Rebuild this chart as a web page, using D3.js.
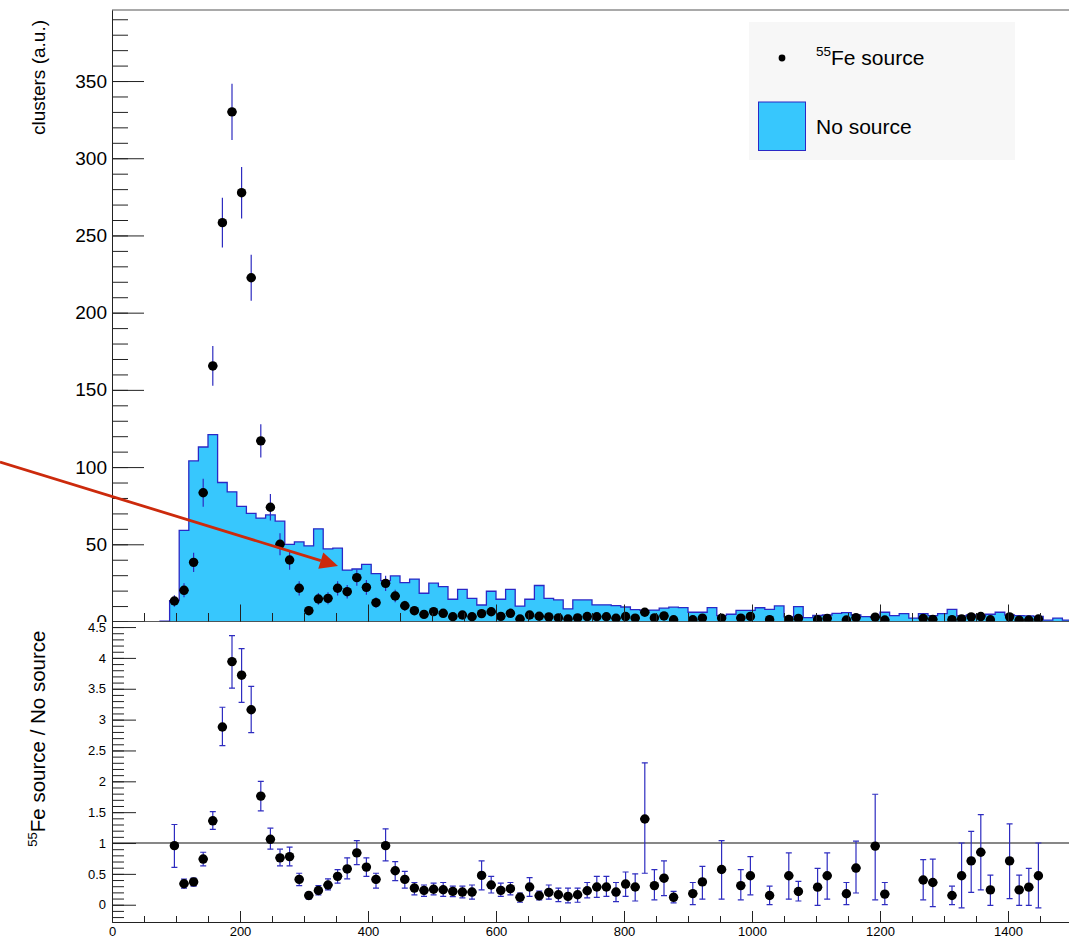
<!DOCTYPE html>
<html>
<head>
<meta charset="utf-8">
<script src="https://cdn.jsdelivr.net/npm/d3@7"></script>
<style>
  html, body { margin: 0; padding: 0; background: #fff; }
  svg { display: block; font-family: "Liberation Sans", Arial, Helvetica, sans-serif; }
</style>
</head>
<body>
<svg id="chart" width="1069" height="941"></svg>
<script>
// Histogram binning: 100 bins of 15 units from 0 to 1500
const xMin = 0, xMax = 1500, nBins = 100;

// "No source" histogram contents, one value per bin
const noSource = [
  0, 0, 0, 0, 0, 0.2, 13.5, 59, 104, 113,
  121, 90, 84, 74.5, 70, 67, 69, 65, 50, 51.5,
  49, 60, 47, 47.5, 33.3, 34, 37, 31, 26.5, 29.5,
  25.2, 27.5, 18.3, 24.8, 22.6, 14.4, 20.8, 15, 10.7, 19.6,
  14.4, 20.8, 10, 14.4, 23.3, 15, 14, 8.2, 14, 14,
  10.8, 10.8, 10.3, 9.4, 7.7, 7.2, 7.4, 8.6, 9.3, 9.0,
  6.0, 6.0, 9.0, 3.8, 4.7, 7.2, 7.2, 8.9, 7.8, 10.1,
  3.0, 9.6, 2.5, 4.0, 4.2, 5.3, 5.8, 4.2, 3.1, 2.9,
  6.0, 3.8, 5.1, 2.2, 5.1, 3.8, 5.1, 7.8, 3.6, 4.2,
  3.8, 4.7, 6.0, 4.2, 3.8, 3.6, 3.3, 0.9, 2.2, 0.9
];

// 55Fe source points (null = empty bin) and their errors
const feSource = [
  null, null, null, null, null, null, 13.3, 20.2, 38.3, 83.4,
  165.5, 258.3, 330, 277.7, 222.6, 117, 74, 50, 39.8, 21.5,
  7, 14.6, 15, 21.5, 19.3, 28.4, 22.1, 12.2, 24.7, 16.5,
  10.2, 7, 4.6, 6.4, 5.3, 3.1, 4.2, 3.1, 5.1, 6.3,
  3.3, 5.3, 1.6, 4.2, 3.4, 3.0, 2.3, 1.6, 2.3, 3.2,
  3.1, 3.1, 2.1, 3.2, 2.2, 6.0, 2.3, 3.6, 1.1, null,
  1.1, 2.2, null, 2.2, null, 2.2, 3.3, null, 1.2, null,
  1.4, 2.0, null, 1.2, 2.0, null, 1.0, 2.5, null, 2.8,
  1.0, null, null, null, 2.0, 1.4, null, 1.2, 1.7, 3.0,
  3.2, 1.1, null, 3.0, 0.9, 1.0, 1.6, null, null, null
];
const feErr = [
  0, 0, 0, 0, 0, 0, 3.7, 4.5, 6.2, 9.1,
  12.9, 16.1, 18.2, 16.7, 14.9, 10.8, 8.6, 7.1, 6.3, 4.6,
  2.6, 3.8, 3.9, 4.6, 4.4, 5.3, 4.7, 3.5, 5.0, 4.1,
  3.2, 2.6, 2.1, 2.5, 2.3, 1.8, 2.0, 1.8, 2.3, 2.5,
  1.8, 2.3, 1.3, 2.0, 1.8, 1.7, 1.5, 1.3, 1.5, 1.8,
  1.8, 1.8, 1.4, 1.8, 1.5, 2.4, 1.5, 1.9, 1.0, 0,
  1.0, 1.5, 0, 1.5, 0, 1.5, 1.8, 0, 1.1, 0,
  1.2, 1.4, 0, 1.1, 1.4, 0, 1.0, 1.6, 0, 1.7,
  1.0, 0, 0, 0, 1.4, 1.2, 0, 1.1, 1.3, 1.7,
  1.8, 1.0, 0, 1.7, 0.9, 1.0, 1.3, 0, 0, 0
];

// Ratio 55Fe source / No source with lower and upper error-bar ends
const ratio = [
  null, null, null, null, null, null, 0.957, 0.34, 0.37, 0.74,
  1.36, 2.88, 3.94, 3.72, 3.16, 1.76, 1.06, 0.76, 0.78, 0.41,
  0.15, 0.23, 0.32, 0.46, 0.58, 0.84, 0.61, 0.41, 0.957, 0.55,
  0.41, 0.27, 0.233, 0.25, 0.243, 0.216, 0.205, 0.205, 0.475, 0.32,
  0.233, 0.26, 0.12, 0.287, 0.146, 0.2, 0.162, 0.135, 0.162, 0.227,
  0.287, 0.287, 0.205, 0.335, 0.287, 1.39, 0.31, 0.43, 0.12, null,
  0.18, 0.37, null, 0.57, null, 0.31, 0.47, null, 0.15, null,
  0.47, 0.215, null, 0.285, 0.47, null, 0.178, 0.594, null, 0.95,
  0.172, null, null, null, 0.4, 0.36, null, 0.15, 0.47, 0.71,
  0.85, 0.24, null, 0.71, 0.24, 0.285, 0.47, null, null, null
];
const ratioLo = [
  null, null, null, null, null, null, 0.605, 0.27, 0.30, 0.63,
  1.22, 2.58, 3.51, 3.28, 2.79, 1.52, 0.90, 0.63, 0.63, 0.31,
  0.09, 0.16, 0.24, 0.35, 0.42, 0.65, 0.46, 0.27, 0.71, 0.39,
  0.27, 0.16, 0.135, 0.16, 0.135, 0.13, 0.11, 0.09, 0.24, 0.19,
  0.135, 0.16, 0.04, 0.135, 0.08, 0.09, 0.05, 0.03, 0.04, 0.11,
  0.12, 0.135, 0.05, 0.135, 0.06, 0.51, 0.08, 0.147, 0.03, null,
  0.0, 0.09, null, 0.09, null, 0.08, 0.16, null, 0.0, null,
  0.09, 0.06, null, -0.01, 0.09, null, 0.0, 0.19, null, 0.08,
  0.0, null, null, null, 0.08, -0.03, null, 0.0, -0.05, 0.2,
  0.24, -0.01, null, 0.1, -0.01, -0.01, -0.05, null, null, null
];
const ratioHi = [
  null, null, null, null, null, null, 1.30, 0.416, 0.43, 0.85,
  1.51, 3.2, 4.36, 4.15, 3.54, 2.0, 1.24, 0.90, 0.935, 0.51,
  0.20, 0.31, 0.42, 0.57, 0.76, 1.04, 0.76, 0.51, 1.23, 0.70,
  0.54, 0.36, 0.32, 0.35, 0.36, 0.30, 0.30, 0.32, 0.71, 0.46,
  0.35, 0.36, 0.19, 0.44, 0.22, 0.32, 0.27, 0.27, 0.27, 0.36,
  0.46, 0.46, 0.36, 0.53, 0.50, 2.30, 0.57, 0.71, 0.215, null,
  0.36, 0.62, null, 1.04, null, 0.57, 0.78, null, 0.30, null,
  0.84, 0.38, null, 0.59, 0.84, null, 0.36, 1.03, null, 1.79,
  0.36, null, null, null, 0.73, 0.74, null, 0.30, 1.0, 1.19,
  1.46, 0.48, null, 1.31, 0.48, 0.59, 1.0, null, null, null
];

// Axis tick values and texts
const xMajorTicks = [0, 200, 400, 600, 800, 1000, 1200, 1400];
const xMinorTicks = d3.range(0, 1501, 50);
const topMajorTicks = [0, 50, 100, 150, 200, 250, 300, 350];
const topMinorTicks = d3.range(0, 391, 10);
const ratioMajorTicks = [0, 0.5, 1, 1.5, 2, 2.5, 3, 3.5, 4, 4.5];
const ratioMinorTicks = d3.range(-2, 46, 1).map(v => v / 10);
const topTitle = "clusters (a.u.)";
const ratioTitle = ["55", "Fe source / No source"];
const legendFe = ["55", "Fe source"];
const legendNo = "No source";

// ---- layout ----
const W = 1069, H = 941;
const left = 112, right = 1072, topY = 10, midY = 621.5, botY = 922;

const svg = d3.select("#chart");
const x = d3.scaleLinear().domain([xMin, xMax]).range([left, right]);
const yTop = d3.scaleLinear().domain([0, 396]).range([midY, topY]);
const yR = d3.scaleLinear().domain([-0.28, 4.59]).range([botY, midY]);

const bw = (xMax - xMin) / nBins;
const bins = noSource.map((v, i) => ({
  i, lo: xMin + i * bw, hi: xMin + (i + 1) * bw, c: xMin + (i + 0.5) * bw,
  ns: v, fe: feSource[i], feE: feErr[i], r: ratio[i], rLo: ratioLo[i], rHi: ratioHi[i]
}));

const defs = svg.append("defs");
defs.append("clipPath").attr("id", "clipTop").append("rect")
  .attr("x", left).attr("y", topY).attr("width", right - left).attr("height", midY - topY);
defs.append("clipPath").attr("id", "clipBot").append("rect")
  .attr("x", 0).attr("y", midY + 0.5).attr("width", W).attr("height", H - midY);
defs.append("clipPath").attr("id", "clipBotFrame").append("rect")
  .attr("x", left).attr("y", midY + 0.5).attr("width", right - left).attr("height", botY - midY);

svg.append("rect").attr("width", W).attr("height", H).attr("fill", "#fff");

const fillCol = "#37c7fd", lineCol = "#2a28c6", errCol = "#2e2cc0", axisCol = "#222";
const font = "'Liberation Sans', Arial, sans-serif";

// ---- top panel ----
const topG = svg.append("g");
const plotTop = topG.append("g").attr("clip-path", "url(#clipTop)");

const first = bins.findIndex(d => d.ns > 0);
const hb = bins.slice(first);
const stepPts = hb.map(d => [d.lo, d.ns]).concat([[xMax, hb[hb.length - 1].ns]]);

plotTop.append("path")
  .attr("d", d3.area().curve(d3.curveStepAfter)
    .x(d => x(d[0])).y0(yTop(0)).y1(d => yTop(d[1]))(stepPts))
  .attr("fill", fillCol);
plotTop.append("path")
  .attr("d", d3.line().curve(d3.curveStepAfter)
    .x(d => x(d[0])).y(d => yTop(d[1]))([[hb[0].lo, 0]].concat(stepPts)))
  .attr("fill", "none").attr("stroke", lineCol).attr("stroke-width", 1.3);

const feBins = bins.filter(d => d.fe !== null);
plotTop.selectAll("line.ferr").data(feBins).join("line")
  .attr("x1", d => x(d.c)).attr("x2", d => x(d.c))
  .attr("y1", d => yTop(d.fe - d.feE)).attr("y2", d => yTop(d.fe + d.feE))
  .attr("stroke", errCol).attr("stroke-width", 1.2);
plotTop.selectAll("line.fex").data(feBins).join("line")
  .attr("x1", d => x(d.lo) + 0.3).attr("x2", d => x(d.hi) - 0.3)
  .attr("y1", d => yTop(d.fe)).attr("y2", d => yTop(d.fe))
  .attr("stroke", "#000").attr("stroke-width", 1.8);
plotTop.selectAll("circle").data(feBins).join("circle")
  .attr("cx", d => x(d.c)).attr("cy", d => yTop(d.fe)).attr("r", 4.7)
  .attr("fill", "#000");

// top axes
const topLeftAxis = topG.append("g").attr("transform", `translate(${left},0)`)
  .call(d3.axisLeft(yTop).tickValues(topMajorTicks).tickSizeInner(-32).tickSizeOuter(0).tickPadding(5));
topG.append("g").attr("transform", `translate(${left},0)`)
  .call(d3.axisLeft(yTop).tickValues(topMinorTicks).tickSizeInner(-16).tickSizeOuter(0).tickFormat(""));
topG.append("g").attr("transform", `translate(0,${midY})`)
  .call(d3.axisBottom(x).tickValues(xMajorTicks).tickSizeInner(-17).tickSizeOuter(0).tickFormat(""));
topG.append("g").attr("transform", `translate(0,${midY})`)
  .call(d3.axisBottom(x).tickValues(xMinorTicks).tickSizeInner(-8.5).tickSizeOuter(0).tickFormat(""));
topG.selectAll(".domain").attr("stroke", axisCol);
topG.selectAll(".tick line").attr("stroke", axisCol);
topLeftAxis.selectAll("text").attr("font-size", 19).attr("fill", "#000").attr("font-family", font);
// frame top edge
topG.append("line").attr("x1", left).attr("x2", right).attr("y1", topY).attr("y2", topY)
  .attr("stroke", "#555").attr("stroke-width", 1.2);

topG.append("text")
  .attr("transform", `translate(45,${topY + 10}) rotate(-90)`)
  .attr("text-anchor", "end").attr("font-size", 19).text(topTitle);

// ---- lower panel ----
const botPad = svg.append("g").attr("clip-path", "url(#clipBot)");
botPad.append("rect").attr("x", 0).attr("y", midY + 0.5).attr("width", W).attr("height", H - midY)
  .attr("fill", "#fff");
const plotBot = botPad.append("g").attr("clip-path", "url(#clipBotFrame)");

plotBot.append("line").attr("x1", left).attr("x2", right)
  .attr("y1", yR(1)).attr("y2", yR(1)).attr("stroke", "#111").attr("stroke-width", 1.2);

const rBins = bins.filter(d => d.r !== null);
plotBot.selectAll("line.rerr").data(rBins).join("line")
  .attr("x1", d => x(d.c)).attr("x2", d => x(d.c))
  .attr("y1", d => yR(d.rLo)).attr("y2", d => yR(d.rHi))
  .attr("stroke", errCol).attr("stroke-width", 1.2);
["rLo", "rHi"].forEach(k => {
  plotBot.selectAll("line.cap" + k).data(rBins).join("line")
    .attr("x1", d => x(d.c) - 3).attr("x2", d => x(d.c) + 3)
    .attr("y1", d => yR(d[k])).attr("y2", d => yR(d[k]))
    .attr("stroke", errCol).attr("stroke-width", 1.2);
});
plotBot.selectAll("line.rx").data(rBins).join("line")
  .attr("x1", d => x(d.lo) + 0.3).attr("x2", d => x(d.hi) - 0.3)
  .attr("y1", d => yR(d.r)).attr("y2", d => yR(d.r))
  .attr("stroke", "#000").attr("stroke-width", 1.8);
plotBot.selectAll("circle").data(rBins).join("circle")
  .attr("cx", d => x(d.c)).attr("cy", d => yR(d.r)).attr("r", 4.7).attr("fill", "#000");

const botLeftAxis = botPad.append("g").attr("transform", `translate(${left},0)`)
  .call(d3.axisLeft(yR).tickValues(ratioMajorTicks).tickSizeInner(-24).tickSizeOuter(0).tickPadding(6)
    .tickFormat(d3.format("~g")));
botPad.append("g").attr("transform", `translate(${left},0)`)
  .call(d3.axisLeft(yR).tickValues(ratioMinorTicks).tickSizeInner(-12).tickSizeOuter(0).tickFormat(""));
const botXAxis = botPad.append("g").attr("transform", `translate(0,${botY})`)
  .call(d3.axisBottom(x).tickValues(xMajorTicks).tickSizeInner(-11).tickSizeOuter(0).tickPadding(5)
    .tickFormat(d3.format("d")));
botPad.append("g").attr("transform", `translate(0,${botY})`)
  .call(d3.axisBottom(x).tickValues(xMinorTicks).tickSizeInner(-6).tickSizeOuter(0).tickFormat(""));
botPad.selectAll(".domain").attr("stroke", axisCol);
botPad.selectAll(".tick line").attr("stroke", axisCol);
botLeftAxis.selectAll("text").attr("font-size", 13).attr("fill", "#000").attr("font-family", font);
botXAxis.selectAll("text").attr("font-size", 13).attr("fill", "#000").attr("font-family", font);

const rt = botPad.append("text")
  .attr("transform", `translate(45,${midY + 9}) rotate(-90)`)
  .attr("text-anchor", "end").attr("font-size", 20.5);
rt.append("tspan").attr("font-size", 13).attr("dy", -8).text(ratioTitle[0]);
rt.append("tspan").attr("dy", 8).text(ratioTitle[1]);

// ---- arrow ----
const arrowCol = "#cc2a0c";
const ax0 = 0, ay0 = 462, ax1 = 338, ay1 = 566;
const ang = Math.atan2(ay1 - ay0, ax1 - ax0);
const hl = 18, hw = 8.5;
const bx = ax1 - hl * Math.cos(ang), by = ay1 - hl * Math.sin(ang);
svg.append("line").attr("x1", ax0).attr("y1", ay0).attr("x2", bx).attr("y2", by)
  .attr("stroke", arrowCol).attr("stroke-width", 2.8);
svg.append("path")
  .attr("d", `M${ax1},${ay1}L${bx - hw * Math.sin(ang)},${by + hw * Math.cos(ang)}L${bx + hw * Math.sin(ang)},${by - hw * Math.cos(ang)}Z`)
  .attr("fill", arrowCol);

// ---- legend ----
const lg = svg.append("g");
lg.append("rect").attr("x", 749).attr("y", 22).attr("width", 266).attr("height", 138).attr("fill", "#f7f7f7");
lg.append("circle").attr("cx", 782).attr("cy", 58).attr("r", 3.4).attr("fill", "#000");
const lt1 = lg.append("text").attr("x", 816).attr("y", 65).attr("font-size", 21);
lt1.append("tspan").attr("font-size", 13.5).attr("dy", -9).text(legendFe[0]);
lt1.append("tspan").attr("dy", 9).text(legendFe[1]);
lg.append("rect").attr("x", 758.5).attr("y", 102).attr("width", 47).attr("height", 48.5)
  .attr("fill", fillCol).attr("stroke", lineCol).attr("stroke-width", 1);
lg.append("text").attr("x", 816).attr("y", 134).attr("font-size", 21).text(legendNo);
</script>
</body>
</html>
